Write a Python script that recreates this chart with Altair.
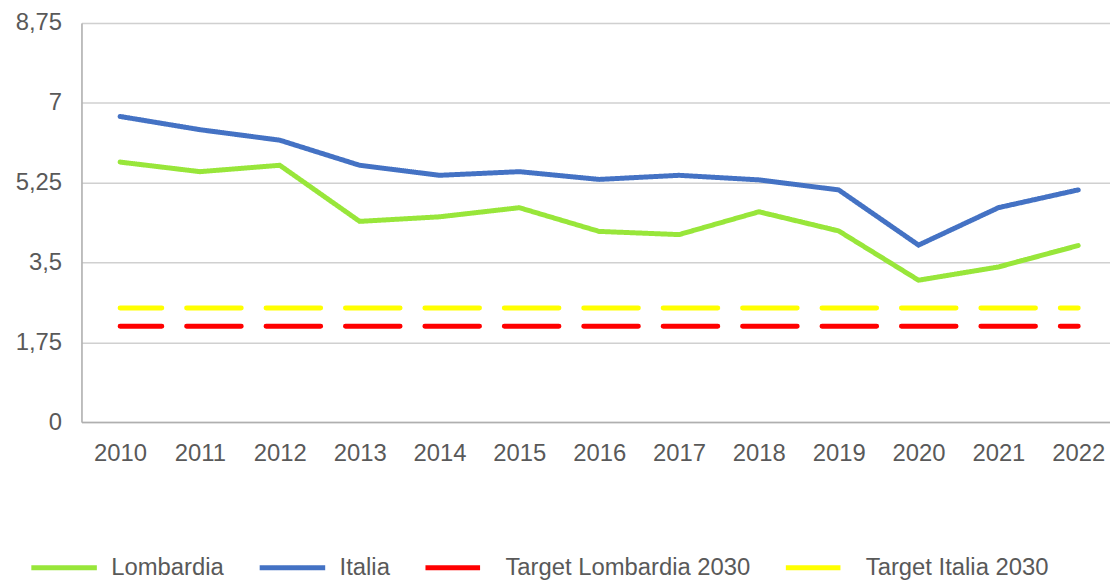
import altair as alt
import pandas as pd

years = list(range(2010, 2023))
lombardia = [5.70, 5.49, 5.63, 4.40, 4.50, 4.70, 4.18, 4.11, 4.61, 4.19, 3.11, 3.40, 3.87]
italia = [6.70, 6.41, 6.18, 5.63, 5.41, 5.49, 5.32, 5.41, 5.31, 5.09, 3.88, 4.70, 5.09]
target_lombardia = [2.1] * len(years)
target_italia = [2.5] * len(years)

series_names = ["Lombardia", "Italia", "Target Lombardia 2030", "Target Italia 2030"]
series_colors = ["#98E63A", "#4472C4", "#FF0000", "#FFFF00"]
series_dash = [[1, 0], [1, 0], [55, 25], [55, 25]]
series_width = [5, 5, 6, 6]
y_ticks = [0, 1.75, 3.5, 5.25, 7, 8.75]

rows = []
for name, vals in zip(series_names, [lombardia, italia, target_lombardia, target_italia]):
    for yr, v in zip(years, vals):
        rows.append({"series": name, "year": yr, "value": v})
df = pd.DataFrame(rows)

FONT = "Liberation Sans"
TXT = "#595959"


def make_legend():
    return alt.Legend(
        orient="none",
        legendX=-53,
        legendY=513,
        direction="horizontal",
        title=None,
        symbolType="stroke",
        symbolSize=4356,
        symbolStrokeWidth=6,
        labelFontSize=24,
        labelFont=FONT,
        labelColor=TXT,
        labelOffset=12,
        labelLimit=400,
        columnPadding=25,
        padding=0,
    )


chart = (
    alt.Chart(df)
    .mark_line(strokeCap="round", strokeDashOffset=13)
    .encode(
        x=alt.X(
            "year:Q",
            scale=alt.Scale(domain=[2009.516, 2022.398], nice=False, zero=False),
            axis=alt.Axis(
                values=years,
                format="d",
                title=None,
                grid=False,
                ticks=False,
                tickSize=0,
                labelPadding=20,
                labelFontSize=24,
                labelFont=FONT,
                labelColor=TXT,
                domainColor="#AFAFAF",
                domainWidth=1.5,
            ),
        ),
        y=alt.Y(
            "value:Q",
            scale=alt.Scale(domain=[0, 8.75], nice=False, zero=True),
            axis=alt.Axis(
                values=y_ticks,
                labelExpr="replace(toString(datum.value), '.', ',')",
                title=None,
                ticks=False,
                tickSize=0,
                labelPadding=20,
                labelFontSize=24,
                labelFont=FONT,
                labelColor=TXT,
                gridColor="#D0D0D0",
                gridWidth=1.5,
                domainColor="#AFAFAF",
                domainWidth=1.5,
            ),
        ),
        color=alt.Color(
            "series:N",
            scale=alt.Scale(domain=series_names, range=series_colors),
            legend=make_legend(),
        ),
        strokeDash=alt.StrokeDash(
            "series:N",
            scale=alt.Scale(domain=series_names, range=series_dash),
            legend=make_legend(),
        ),
        strokeWidth=alt.StrokeWidth(
            "series:N",
            scale=alt.Scale(domain=series_names, range=series_width),
            legend=None,
        ),
        order=alt.Order("year:Q"),
    )
    .properties(
        width=1036,
        height=402,
        autosize=alt.AutoSizeParams(type="none"),
        padding={"left": 74, "top": 13, "right": 0, "bottom": 157},
    )
    .configure_view(stroke=None)
    .configure(font=FONT)
)

chart.save("out.html", embed_options={"renderer": "svg", "actions": False})
